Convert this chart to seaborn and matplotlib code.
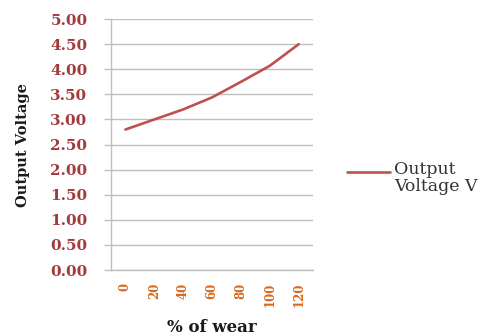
import matplotlib
matplotlib.use("Agg")
import matplotlib.pyplot as plt
import seaborn as sns
import pandas as pd
from matplotlib.lines import Line2D

wear = ["0", "20", "40", "60", "80", "100", "120"]
voltage = [2.80, 3.00, 3.20, 3.44, 3.75, 4.07, 4.50]
y_ticks = [0.0, 0.5, 1.0, 1.5, 2.0, 2.5, 3.0, 3.5, 4.0, 4.5, 5.0]
series_name = "Output\nVoltage V"

sns.set_theme(style="white")
plt.rcParams["font.family"] = ["DejaVu Serif"]

line_color = "#C0504D"
grid_color = "#BFBFBF"

df = pd.DataFrame({"wear": wear, "voltage": voltage})

fig = plt.figure(figsize=(4.87, 3.35), dpi=100)
ax = fig.add_axes([0.228, 0.194, 0.415, 0.749])

sns.lineplot(data=df, x="wear", y="voltage", ax=ax, color=line_color,
             linewidth=1.9, sort=False)

ax.set_xlim(-0.5, len(wear) - 0.5)
ax.set_ylim(0, 5.0)
ax.set_yticks(y_ticks)
ax.set_yticklabels([f"{v:.2f}" for v in y_ticks], fontsize=11,
                   fontweight="bold", color="#A33A3C")
ax.set_xticks(range(len(wear)))
ax.set_xticklabels(wear, rotation=90, fontsize=8.5, fontweight="bold",
                   color="#D86A1E")

ax.yaxis.grid(True, color=grid_color, linewidth=1.0)
ax.xaxis.grid(False)
for side in ("top", "right"):
    ax.spines[side].set_visible(False)
for side in ("left", "bottom"):
    ax.spines[side].set_color(grid_color)
    ax.spines[side].set_linewidth(1.0)

ax.tick_params(axis="y", length=5, width=1.0, color=grid_color, pad=12, left=True)
ax.tick_params(axis="x", length=0, pad=9)

ax.set_xlabel("% of wear", fontsize=12, fontweight="bold", color="#1A1A1A")
ax.set_ylabel("Output Voltage", fontsize=10.5, fontweight="bold",
              color="#1A1A1A")
ax.yaxis.set_label_coords(-0.40, 0.5)
ax.xaxis.set_label_coords(0.5, -0.195)

# legend key and its two-line label
fig.add_artist(Line2D([0.712, 0.800], [0.487, 0.487], color=line_color,
                      linewidth=1.9, transform=fig.transFigure))
fig.text(0.810, 0.518, series_name, fontsize=12.5, color="#333333",
         ha="left", va="top", linespacing=1.0, transform=fig.transFigure)

fig.savefig("out.png", dpi=100, facecolor="white")
